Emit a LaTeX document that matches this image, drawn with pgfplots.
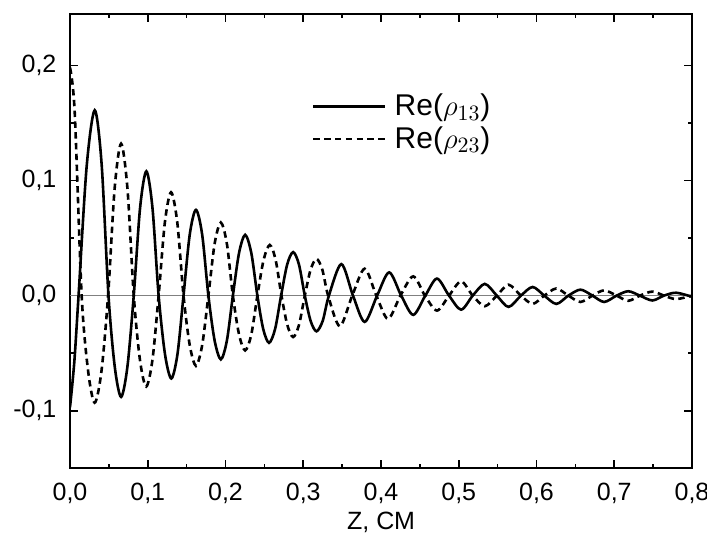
\documentclass[border=0pt]{standalone}
\usepackage{fontspec}
\setmainfont{Liberation Sans}
\usepackage{pgfplots}
\pgfplotsset{compat=1.18}

\begin{document}
\begin{tikzpicture}
\begin{axis}[
  scale only axis,
  width=311pt, height=227.35pt,
  xmin=0, xmax=0.8,
  ymin=-0.15, ymax=0.245,
  xtick={0,0.1,...,0.8},
  ytick={-0.1,0,0.1,0.2},
  minor tick num=1,
  tick align=inside,
  major tick length=4.2pt,
  minor tick length=2.2pt,
  every tick/.style={black, line width=0.8pt},
  axis line style={line width=1pt},
  /pgf/number format/.cd, use comma, fixed, fixed zerofill, precision=1,
    assume math mode=true,
  /pgfplots/.cd,
  tick label style={font=\fontsize{12.5}{14}\selectfont},
  xticklabel style={inner sep=0pt, yshift=-7.3pt},
  yticklabel style={inner sep=0pt, xshift=-6.6pt},
  xlabel={Z, СМ},
  every axis x label/.style={at={(rel axis cs:0.5,0)}, anchor=north,
    inner sep=0pt, yshift=-21.7pt, font=\fontsize{12.5}{14}\selectfont},
  legend style={draw=none, fill=none, at={(0.3886,0.76)}, anchor=west,
    inner sep=0pt, font=\fontsize{15}{17}\selectfont, row sep=0pt,
    /tikz/every odd column/.append style={column sep=2pt}},
  legend cell align=left,
  legend image code/.code={\draw[#1] (0pt,0pt) -- (36pt,0pt);},
]
% zero line
\addplot[gray, line width=0.8pt, forget plot] coordinates {(0,0) (0.8,0)};

% Re(rho_13)
\addplot[black, line width=1.3pt, smooth] coordinates {
  (0,-0.097) (0.0055,-0.058) (0.011,0) (0.0214,0.112) (0.0318,0.161)
  (0.0407,0.114) (0.0495,0) (0.0576,-0.062) (0.0657,-0.088) (0.0738,-0.062)
  (0.082,0) (0.0901,0.076) (0.0982,0.108) (0.1061,0.076) (0.114,0)
  (0.1222,-0.051) (0.1303,-0.072) (0.1382,-0.051) (0.146,0) (0.154,0.053)
  (0.162,0.0745) (0.170,0.053) (0.178,0) (0.186,-0.039) (0.194,-0.0554)
  (0.2018,-0.039) (0.2095,0) (0.2174,0.037) (0.2253,0.0528) (0.2332,0.037)
  (0.241,0) (0.2485,-0.029) (0.256,-0.041) (0.2638,-0.029) (0.2715,0)
  (0.2793,0.027) (0.287,0.0378) (0.2945,0.027) (0.302,0) (0.3095,-0.022)
  (0.317,-0.031) (0.325,-0.022) (0.333,0)
  (0.349,0.0274) (0.364,0) (0.379,-0.0228) (0.395,0) (0.4105,0.0202)
  (0.426,0) (0.4414,-0.0167) (0.457,0) (0.472,0.0148) (0.4875,0)
  (0.503,-0.0122) (0.518,0) (0.5335,0.0102) (0.549,0) (0.564,-0.0098)
  (0.580,0) (0.595,0.0075) (0.610,0) (0.6255,-0.0072) (0.641,0)
  (0.6565,0.0052) (0.672,0) (0.687,-0.0055) (0.703,0) (0.718,0.0038)
  (0.733,0) (0.749,-0.0042) (0.764,0) (0.7795,0.0025) (0.8,-0.001)
};
\addlegendentry{Re($\rho_{13}$)}

% Re(rho_23)
\addplot[black, line width=1.3pt, dash pattern=on 3.2pt off 2.2pt, smooth] coordinates {
  (0,0.198) (0.006,0.16) (0.015,0) (0.0234,-0.066) (0.0318,-0.093)
  (0.0404,-0.066) (0.049,0) (0.0574,0.093) (0.0657,0.132) (0.0739,0.093)
  (0.082,0) (0.090,-0.056) (0.098,-0.079) (0.106,-0.056) (0.114,0)
  (0.122,0.0635) (0.130,0.0898) (0.138,0.0635) (0.146,0) (0.154,-0.043)
  (0.162,-0.061) (0.170,-0.043) (0.178,0) (0.186,0.045) (0.194,0.0635)
  (0.2018,0.045) (0.2095,0) (0.2174,-0.0337) (0.2253,-0.0476) (0.2332,-0.0337)
  (0.241,0) (0.249,0.031) (0.257,0.044) (0.2645,0.031) (0.272,0)
  (0.2795,-0.0255) (0.287,-0.036) (0.2945,-0.0255) (0.302,0) (0.3095,0.0226)
  (0.317,0.032) (0.3245,0.0226) (0.332,0)
  (0.347,-0.0266) (0.363,0) (0.379,0.0234) (0.394,0) (0.409,-0.0202)
  (0.425,0) (0.4414,0.0167) (0.4565,0) (0.472,-0.013) (0.4875,0)
  (0.503,0.0124) (0.518,0) (0.5335,-0.0092) (0.549,0) (0.564,0.0095)
  (0.580,0) (0.595,-0.0072) (0.610,0) (0.6255,0.0062) (0.641,0)
  (0.6565,-0.0055) (0.672,0) (0.687,0.0046) (0.703,0) (0.718,-0.0045)
  (0.733,0) (0.749,0.0035) (0.764,0) (0.7795,-0.003) (0.8,0)
};
\addlegendentry{Re($\rho_{23}$)}
\end{axis}
\pgfresetboundingbox
\path (-35pt,-33.35pt) rectangle (318.5pt,234.15pt);
\end{tikzpicture}
\end{document}
